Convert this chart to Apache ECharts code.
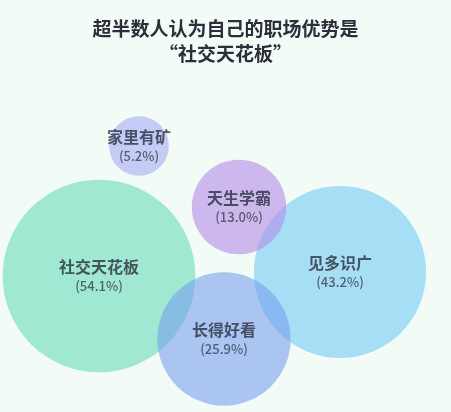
<!DOCTYPE html>
<html>
<head>
<meta charset="utf-8">
<script src="https://cdn.jsdelivr.net/npm/echarts@6/dist/echarts.min.js"></script>
<style>
    html, body {margin: 0; padding: 0; background: #ffffff;}
    #chart {width: 451px; height: 412px;}
</style>
</head>
<body>
<div id="chart"></div>
<script>
    // 优势类别和占比
    const names = ['家里有矿', '社交天花板', '见多识广', '天生学霸', '长得好看'];
    const percents = [5.2, 54.1, 43.2, 13.0, 25.9];
    // 气泡在画面上的位置 (x 向右, y 向下)
    const xs = [139, 99, 340, 239, 224];
    const ys = [146, 276, 272, 207, 339];

    const colors = [
        'rgba(178,184,242,0.9)',
        'rgba(135,226,198,0.95)',
        'rgba(142,214,245,0.95)',
        'rgba(180,140,232,0.75)',
        'rgba(118,158,240,0.72)'
    ];

    let chartDom = document.getElementById('chart');
    let myChart = echarts.init(chartDom);

    const points = names.map((n, i) => ({
        name: n,
        value: [xs[i], ys[i], percents[i]],
        itemStyle: {color: colors[i]}
    }));

    let option = {
        backgroundColor: '#f3fbf7',
        animation: false,
        title: {
            text: '超半数人认为自己的职场优势是\n“社交天花板”',
            left: 'center',
            top: 11,
            textStyle: {
                fontFamily: 'Noto Sans CJK SC',
                fontSize: 19,
                fontWeight: 'bold',
                color: '#2b2f3a',
                lineHeight: 25
            }
        },
        grid: {left: 0, right: 0, top: 0, bottom: 0},
        xAxis: {type: 'value', min: 0, max: 451, show: false},
        yAxis: {type: 'value', min: 0, max: 412, inverse: true, show: false},
        series: [
            {
                type: 'scatter',
                data: points,
                symbolSize: (val) => 2 * 13.1 * Math.sqrt(val[2]),
                label: {
                    show: true,
                    position: 'inside',
                    formatter: (p) => '{n|' + p.name + '}\n{v|(' + p.value[2].toFixed(1) + '%)}',
                    rich: {
                        n: {
                            fontFamily: 'Noto Sans CJK SC',
                            fontSize: 16,
                            fontWeight: 'bold',
                            color: '#2a3040',
                            lineHeight: 21
                        },
                        v: {
                            fontFamily: 'Noto Sans CJK SC',
                            fontSize: 13,
                            fontWeight: 500,
                            color: '#3a4252',
                            lineHeight: 19
                        }
                    }
                },
                emphasis: {disabled: true}
            }
        ]
    };
    myChart.setOption(option);
</script>
</body>
</html>
